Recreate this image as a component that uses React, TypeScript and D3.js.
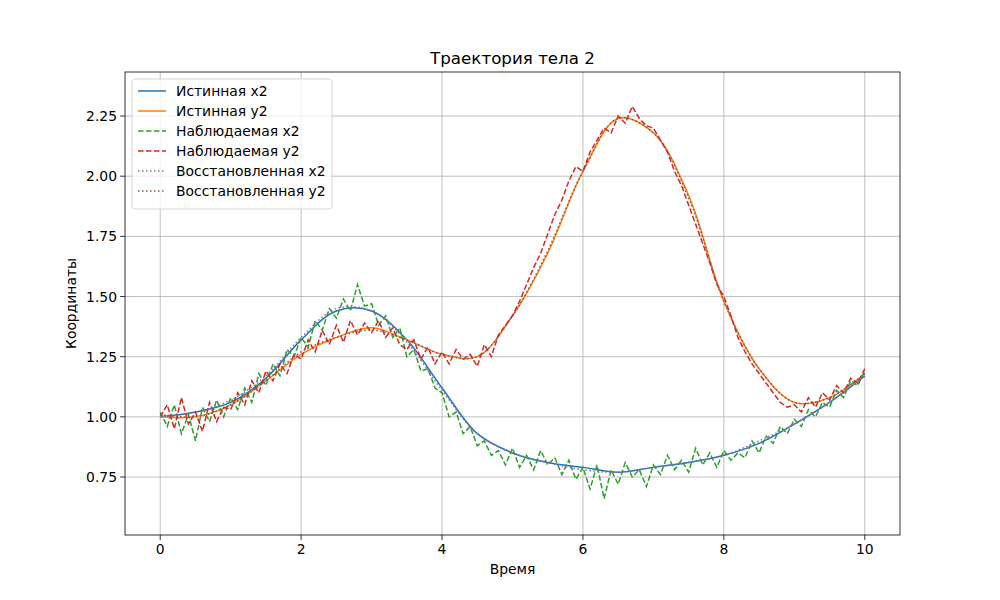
import React from "react";
import * as d3 from "d3";

// time grids
const tTrue = d3.range(0, 10.001, 0.5).map((v) => +v.toFixed(2));
const tObs = d3.range(0, 10.001, 0.1).map((v) => +v.toFixed(2));

const trueX2 = [1.0, 1.02, 1.06, 1.16, 1.32, 1.44, 1.44, 1.32, 1.12, 0.93, 0.85, 0.81, 0.79, 0.77, 0.79, 0.81, 0.84, 0.89, 0.97, 1.06, 1.17];
const trueY2 = [1.0, 1.0, 1.05, 1.15, 1.26, 1.33, 1.37, 1.32, 1.26, 1.25, 1.42, 1.68, 2.02, 2.24, 2.18, 1.92, 1.48, 1.2, 1.06, 1.08, 1.18];
const recX2 = [1.0, 1.02, 1.07, 1.17, 1.33, 1.45, 1.44, 1.31, 1.11, 0.93, 0.85, 0.81, 0.78, 0.77, 0.79, 0.81, 0.84, 0.9, 0.97, 1.06, 1.17];
const recY2 = [1.01, 1.0, 1.05, 1.15, 1.27, 1.33, 1.36, 1.32, 1.26, 1.25, 1.42, 1.69, 2.02, 2.24, 2.18, 1.91, 1.48, 1.2, 1.06, 1.08, 1.18];

const obsX2 = [
  1.02, 0.96, 1.05, 0.93, 1.01, 0.9, 1.04, 0.98, 1.07, 1.0,
  1.08, 1.03, 1.12, 1.06, 1.18, 1.13, 1.22, 1.17, 1.28, 1.25,
  1.33, 1.29, 1.4, 1.36, 1.45, 1.41, 1.49, 1.44, 1.55, 1.46,
  1.47, 1.38, 1.42, 1.33, 1.37, 1.25, 1.28, 1.19, 1.2, 1.12,
  1.1, 1.0, 1.02, 0.93, 0.96, 0.88, 0.9, 0.84, 0.86, 0.8,
  0.87, 0.79, 0.84, 0.78, 0.86, 0.8, 0.83, 0.76, 0.82, 0.74,
  0.79, 0.7, 0.8, 0.66, 0.78, 0.72, 0.81, 0.75, 0.78, 0.71,
  0.8, 0.76, 0.84, 0.78, 0.82, 0.77, 0.87, 0.8, 0.85, 0.79,
  0.86, 0.82, 0.85, 0.83, 0.9, 0.85, 0.92, 0.89, 0.96, 0.93,
  0.99, 0.96, 1.03, 1.0, 1.06, 1.04, 1.11, 1.08, 1.15, 1.13,
  1.19,
];
const obsY2 = [
  1.0, 1.05, 0.95, 1.08, 0.97, 1.02, 0.94, 1.06, 0.98, 1.04,
  1.03, 1.1, 1.05, 1.15, 1.1, 1.19, 1.15, 1.22, 1.18, 1.26,
  1.24, 1.32, 1.27, 1.36, 1.3, 1.38, 1.31, 1.4, 1.34, 1.39,
  1.35, 1.4, 1.33, 1.37, 1.3, 1.28, 1.32, 1.24, 1.29, 1.22,
  1.27, 1.22, 1.28, 1.24, 1.26, 1.21, 1.3, 1.25, 1.34, 1.38,
  1.42, 1.48, 1.55, 1.62, 1.68, 1.76, 1.84, 1.9, 1.98, 2.04,
  2.02, 2.1, 2.15, 2.2, 2.18, 2.25, 2.22, 2.29, 2.24, 2.21,
  2.2, 2.15, 2.1, 2.02, 1.96, 1.88, 1.8, 1.72, 1.64, 1.55,
  1.5, 1.42, 1.33, 1.27, 1.22, 1.18, 1.14, 1.1, 1.06, 1.04,
  1.05, 1.02, 1.08, 1.04, 1.1, 1.07, 1.13, 1.1, 1.16, 1.14,
  1.2,
];

const xTicks = [0, 2, 4, 6, 8, 10];
const yTicks = [0.75, 1.0, 1.25, 1.5, 1.75, 2.0, 2.25];

const series = [
  { label: "Истинная x2", color: "#1f77b4", t: tTrue, v: trueX2, dash: "", curve: true },
  { label: "Истинная y2", color: "#ff7f0e", t: tTrue, v: trueY2, dash: "", curve: true },
  { label: "Наблюдаемая x2", color: "#2ca02c", t: tObs, v: obsX2, dash: "5.55,2.4", curve: false },
  { label: "Наблюдаемая y2", color: "#d62728", t: tObs, v: obsY2, dash: "5.55,2.4", curve: false },
  { label: "Восстановленная x2", color: "#9467bd", t: tTrue, v: recX2, dash: "1.5,2.5", curve: true },
  { label: "Восстановленная y2", color: "#8c564b", t: tTrue, v: recY2, dash: "1.5,2.5", curve: true },
];

const L = 125, R = 900, T = 72, B = 535;
const font = "DejaVu Sans, sans-serif";

export default function App() {
  const x = d3.scaleLinear().domain([-0.5, 10.5]).range([L, R]);
  const y = d3.scaleLinear().domain([0.509, 2.433]).range([B, T]);
  return (
    <svg width={1000} height={600} style={{ position: "absolute", left: 0, top: 0 }} fontFamily={font}>
      <rect width={1000} height={600} fill="#fff" />
      {xTicks.map((t) => (
        <g key={"x" + t}>
          <line x1={x(t)} x2={x(t)} y1={T} y2={B} stroke="#b0b0b0" strokeWidth={0.8} />
          <line x1={x(t)} x2={x(t)} y1={B} y2={B + 4.9} stroke="#000" strokeWidth={0.8} />
          <text x={x(t)} y={B + 19} fontSize={13.9} textAnchor="middle">{t}</text>
        </g>
      ))}
      {yTicks.map((t) => (
        <g key={"y" + t}>
          <line x1={L} x2={R} y1={y(t)} y2={y(t)} stroke="#b0b0b0" strokeWidth={0.8} />
          <line x1={L - 4.9} x2={L} y1={y(t)} y2={y(t)} stroke="#000" strokeWidth={0.8} />
          <text x={L - 8} y={y(t) + 5} fontSize={13.9} textAnchor="end">{t.toFixed(2)}</text>
        </g>
      ))}
      <defs>
        <clipPath id="clip"><rect x={L} y={T} width={R - L} height={B - T} /></clipPath>
      </defs>
      <g clipPath="url(#clip)">
        {series.map((s) => {
          const gen = d3.line<number>()
            .x((_, i) => x(s.t[i]))
            .y((d) => y(d))
            .curve(s.curve ? d3.curveCatmullRom : d3.curveLinear);
          return (
            <path key={s.label} d={gen(s.v) || ""} fill="none" stroke={s.color}
              strokeWidth={1.5} strokeDasharray={s.dash || undefined} />
          );
        })}
      </g>
      <rect x={L} y={T} width={R - L} height={B - T} fill="none" stroke="#000" strokeWidth={0.8} />
      <text x={(L + R) / 2} y={B + 39} fontSize={13.9} textAnchor="middle">Время</text>
      <text transform={`translate(76,${(T + B) / 2}) rotate(-90)`} fontSize={13.9} textAnchor="middle">Координаты</text>
      <text x={(L + R) / 2} y={T - 8} fontSize={16.7} textAnchor="middle">Траектория тела 2</text>
      <g>
        <rect x={132} y={79} width={200} height={130} rx={3} fill="#fff" fillOpacity={0.8} stroke="#ccc" strokeWidth={0.8} />
        {series.map((s, i) => (
          <g key={"lg" + s.label}>
            <line x1={138} x2={166} y1={91 + i * 20} y2={91 + i * 20} stroke={s.color} strokeWidth={1.5}
              strokeDasharray={s.dash || undefined} />
            <text x={176} y={96 + i * 20} fontSize={13.9}>{s.label}</text>
          </g>
        ))}
      </g>
    </svg>
  );
}
